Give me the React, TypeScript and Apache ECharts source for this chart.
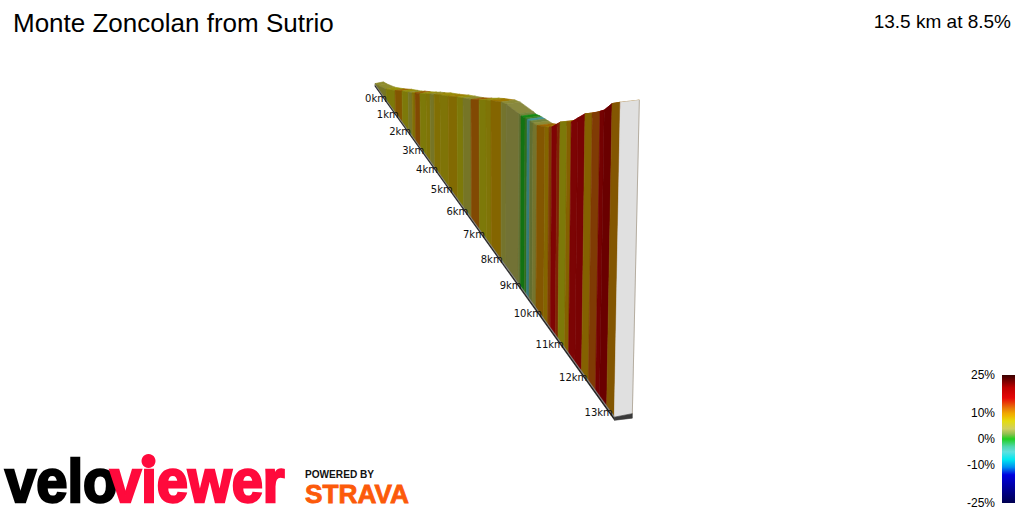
import React, { useEffect, useRef } from "react";
import * as echarts from "echarts";

const titleText = "Monte Zoncolan from Sutrio";
const summaryText = "13.5 km at 8.5%";
const kmMarks = [0, 1, 2, 3, 4, 5, 6, 7, 8, 9, 10, 11, 12, 13];
const routeEndKm = 13.5;
const legendTicks = [25, 10, 0, -10, -25];

// Distance along the climb at each strip boundary (km)
const stripKm = [0, 0.27, 0.96, 1.71, 2.27, 2.74, 3.04, 3.26, 3.62, 4.05, 4.33, 4.61, 5.0, 5.53, 6.09, 6.45, 6.92, 7.38, 7.76, 8.03, 8.56, 8.81, 9.44, 9.54, 9.73, 9.83, 9.96, 10.1, 10.28, 10.63, 10.81, 10.93, 11.15, 11.27, 11.55, 11.72, 11.98, 12.25, 12.52, 12.8, 12.95, 13.22, 13.5];
// Height climbed at each strip boundary (m)
const climbM = [8, 21, 64, 123, 171, 208, 231, 251, 281, 318, 343, 366, 400, 442, 489, 517, 553, 593, 628, 651, 693, 707, 724, 724, 734, 738, 743, 748, 755, 783, 799, 811, 844, 863, 891, 906, 947, 988, 1016, 1049, 1068, 1117, 1148];
// Gradient of each strip (%)
const stripGradient = [5, 5, 7, 10.5, 7, 5, 8, 11.5, 7, 7.5, 5, 8, 7.5, 8.5, 7, 5, 11.5, 7, 7.5, 9, 4.5, 4, 3, 0, 1, -5, 3, 4.5, 10.5, 9, 12.5, 16, 14, 7, 9.5, 16.5, 17, 9.5, 12.5, 18, 20, 10.5];

// Colour scale of the gradient legend
const scaleStops = [-25, -20, -14, -11, -8, -5, -3, 0, 2, 4, 7, 9, 10, 12, 14, 16, 20, 25];
const scaleColors = ["#000050", "#000090", "#0000e0", "#0090f0", "#00e8f0", "#60e0e0", "#50d8b0", "#20d020", "#90c050", "#d0d060", "#e4dc10", "#f0b800", "#f0a800", "#e87a08", "#e84008", "#e60808", "#c00000", "#3a0000"];

const hexToRgb = (h: string) => [1, 3, 5].map((i) => parseInt(h.slice(i, i + 2), 16));
function scaleColor(g: number, shade = 1) {
  let i = 0;
  while (i < scaleStops.length - 2 && g > scaleStops[i + 1]) i++;
  const t = Math.min(1, Math.max(0, (g - scaleStops[i]) / (scaleStops[i + 1] - scaleStops[i])));
  const a = hexToRgb(scaleColors[i]);
  const b = hexToRgb(scaleColors[i + 1]);
  const c = a.map((v, k) => Math.round((v + (b[k] - v) * t) * shade));
  return `rgb(${c[0]},${c[1]},${c[2]})`;
}

// Perspective of the 3D view, expressed on the page-sized hidden axes
const baseY = (km: number) => (13.25 * km + 98) / (1 - 0.02645 * km) - 13;
const baseX = (km: number) => 375 + (baseY(km) - 85) / 1.39;
function topPoint(km: number, climb: number) {
  const by = baseY(km);
  const bx = baseX(km);
  const ty = by - climb / (5.66 * (1 - 0.02645 * km));
  const vy = 6422;
  return [500 + ((bx - 500) * (vy - ty)) / (vy - by), ty];
}
function backPoint(km: number, climb: number) {
  const p = topPoint(km, climb);
  const wx = 8.5 + (10.5 * (baseX(km) - 375)) / 239;
  return [p[0] + wx, p[1] - (1.5 + wx * 0.03)];
}

const stripData = stripGradient.map((g, i) => [stripKm[i], stripKm[i + 1], climbM[i], climbM[i + 1], g]);
const endClimb = climbM[climbM.length - 1];

const polygon = (api: any, pts: number[][], fill: string, stroke?: string, lineWidth = 0.6) => ({
  type: "polygon",
  shape: { points: pts.map((p) => api.coord(p)) },
  style: { fill, stroke: stroke ?? fill, lineWidth },
});

const sansFont = "'Liberation Sans', Arial, sans-serif";

function buildOption() {
  return {
    animation: false,
    backgroundColor: "#ffffff",
    title: [
      { text: titleText, left: 8, top: 5, textStyle: { fontFamily: sansFont, fontSize: 26, fontWeight: "normal", color: "#000" } },
      { text: summaryText, right: 8, top: 7, textStyle: { fontFamily: sansFont, fontSize: 19, fontWeight: "normal", color: "#000" } },
    ],
    grid: [
      { left: 0, top: 0, width: 1024, height: 512 },
      { left: 1002, top: 375, width: 13, height: 128 },
    ],
    xAxis: [
      { type: "value", min: 0, max: 1024, show: false, gridIndex: 0 },
      { type: "value", min: 0, max: 1, show: false, gridIndex: 1 },
    ],
    yAxis: [
      { type: "value", min: 0, max: 512, inverse: true, show: false, gridIndex: 0 },
      {
        type: "value",
        min: -25,
        max: 25,
        gridIndex: 1,
        axisLine: { show: false },
        axisTick: { show: false },
        splitLine: { show: false },
        axisLabel: {
          customValues: legendTicks,
          formatter: "{value}%",
          margin: 7,
          fontFamily: sansFont,
          fontSize: 12,
          color: "#000",
        },
      },
    ],
    series: [
      {
        type: "custom",
        name: "road",
        coordinateSystem: "cartesian2d",
        clip: false,
        data: stripData,
        renderItem: (_p: any, api: any) => {
          const [k0, k1, c0, c1, g] = [0, 1, 2, 3, 4].map((d) => api.value(d));
          return polygon(api, [topPoint(k0, c0), topPoint(k1, c1), backPoint(k1, c1), backPoint(k0, c0)], scaleColor(g, 0.66));
        },
      },
      {
        type: "custom",
        name: "wall",
        coordinateSystem: "cartesian2d",
        clip: false,
        data: stripData,
        renderItem: (_p: any, api: any) => {
          const [k0, k1, c0, c1, g] = [0, 1, 2, 3, 4].map((d) => api.value(d));
          return polygon(api, [topPoint(k0, c0), topPoint(k1, c1), [baseX(k1), baseY(k1)], [baseX(k0), baseY(k0)]], scaleColor(g, 0.55));
        },
      },
      {
        type: "custom",
        name: "end",
        coordinateSystem: "cartesian2d",
        clip: false,
        data: [[routeEndKm, endClimb]],
        renderItem: (_p: any, api: any) => {
          const km = api.value(0);
          const c = api.value(1);
          const bx = baseX(km);
          const by = baseY(km);
          return {
            type: "group",
            children: [
              polygon(api, [topPoint(km, c), backPoint(km, c), [bx + 18, by - 3.5], [bx, by]], "#e0e0e0", "#e0e0e0"),
              { type: "line", shape: { x1: api.coord(backPoint(km, c))[0], y1: api.coord(backPoint(km, c))[1], x2: api.coord([bx + 18, 0])[0], y2: api.coord([0, by - 3.5])[1] }, style: { stroke: "#b5ada0", lineWidth: 1 } },
              polygon(api, [[bx, by - 0.5], [bx + 18, by - 4], [bx + 18, by + 0.5], [bx + 1, by + 2.5]], "#3a3a3a"),
            ],
          };
        },
      },
      {
        type: "custom",
        name: "base",
        coordinateSystem: "cartesian2d",
        clip: false,
        data: [[0, routeEndKm]],
        renderItem: (_p: any, api: any) => {
          const k0 = api.value(0);
          const k1 = api.value(1);
          return {
            type: "group",
            children: [
              polygon(api, [[baseX(k0), baseY(k0)], [baseX(k1), baseY(k1)], [baseX(k1) + 0.5, baseY(k1) + 3], [baseX(k0), baseY(k0) + 1.5]], "#1c1c1c", "#1c1c1c", 0.5),
              polygon(api, [[baseX(k0), baseY(k0) - 1], [baseX(k1), baseY(k1) - 1.5], [baseX(k1), baseY(k1)], [baseX(k0), baseY(k0)]], "#8c8c8c", "#8c8c8c", 0.2),
            ],
          };
        },
      },
      {
        type: "custom",
        name: "kmLabels",
        coordinateSystem: "cartesian2d",
        clip: false,
        data: kmMarks.map((k) => [k]),
        renderItem: (_p: any, api: any) => {
          const km = api.value(0);
          const p = api.coord([baseX(km) + 12, baseY(km) + 13.5]);
          return {
            type: "text",
            x: p[0],
            y: p[1],
            style: { text: `${km}km`, align: "right", verticalAlign: "middle", font: "10px 'DejaVu Sans', sans-serif", fill: "#111" },
          };
        },
      },
      {
        type: "custom",
        name: "legend",
        coordinateSystem: "cartesian2d",
        xAxisIndex: 1,
        yAxisIndex: 1,
        data: [[0, 1, -25, 25]],
        renderItem: (_p: any, api: any) => {
          const a = api.coord([api.value(0), api.value(3)]);
          const b = api.coord([api.value(1), api.value(2)]);
          return {
            type: "rect",
            shape: { x: a[0], y: a[1], width: b[0] - a[0], height: b[1] - a[1] },
            style: {
              fill: new echarts.graphic.LinearGradient(
                0, 1, 0, 0,
                scaleStops.map((s, i) => ({ offset: (s + 25) / 50, color: scaleColors[i] }))
              ),
            },
          };
        },
      },
    ],
    graphic: [
      { type: "text", x: 5, y: 481, scaleX: 0.92, style: { text: "velo", font: `bold 61px ${sansFont}`, fill: "#000", stroke: "#000", lineWidth: 2.5, verticalAlign: "middle" } },
      { type: "text", x: 110, y: 481, scaleX: 0.92, style: { text: "viewer", font: `bold 61px ${sansFont}`, fill: "#ff0a3c", stroke: "#ff0a3c", lineWidth: 2.5, verticalAlign: "middle" } },
      { type: "circle", shape: { cx: 148.5, cy: 461, r: 7 }, style: { fill: "#ff0a3c" } },
      { type: "text", x: 305, y: 474.5, scaleX: 1.01, style: { text: "POWERED BY", font: `bold 10px ${sansFont}`, fill: "#111", verticalAlign: "middle" } },
      { type: "text", x: 305, y: 493.9, scaleX: 1.01, style: { text: "STRAVA", font: `bold 26px ${sansFont}`, fill: "#fc5a0a", stroke: "#fc5a0a", lineWidth: 0.8, verticalAlign: "middle" } },
    ],
  };
}

export default function App() {
  const ref = useRef<HTMLDivElement>(null);
  useEffect(() => {
    const chart = echarts.init(ref.current!, undefined, { renderer: "svg" });
    chart.setOption(buildOption() as any);
    return () => chart.dispose();
  }, []);
  return <div ref={ref} style={{ position: "absolute", left: 0, top: 0, width: 1024, height: 512 }} />;
}
